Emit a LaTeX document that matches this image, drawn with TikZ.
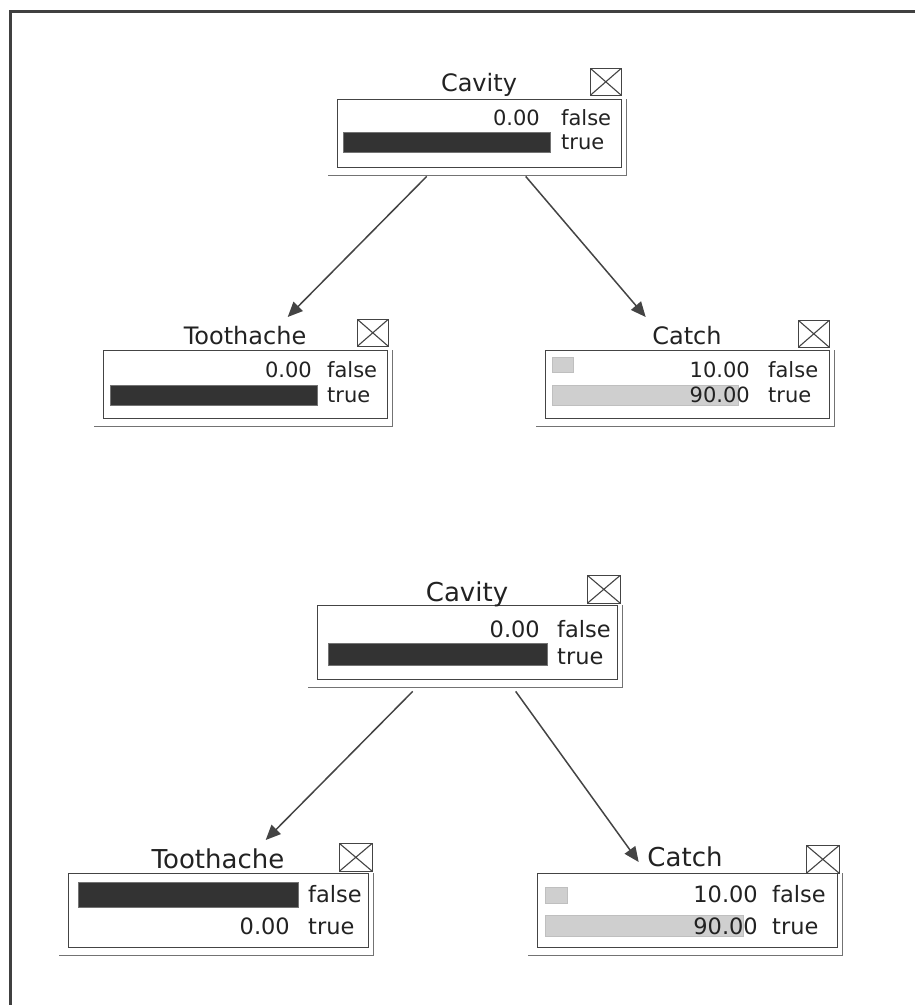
\documentclass[tikz,border=0pt]{standalone}
\usepackage{fontspec}
\setmainfont{DejaVu Sans}
\usetikzlibrary{arrows.meta}
\definecolor{Ink}{HTML}{222222}
\definecolor{Edge}{HTML}{444444}
\definecolor{BarDark}{HTML}{333333}
\definecolor{BarLight}{HTML}{CFCFCF}

\begin{document}
\begin{tikzpicture}[x=1pt, y=-1pt, >={Triangle[length=15pt,width=13pt]}, text=Ink]
\tikzset{win/.style={draw=Edge, line width=1.4pt, fill=white, anchor=north west, inner sep=0pt, minimum width=284pt, minimum height=68pt},
 winb/.style={win, minimum width=300pt, minimum height=74pt},
 ttl/.style={anchor=base, inner sep=0pt, font=\fontsize{24}{24}\selectfont},
 ttlb/.style={ttl, font=\fontsize{26}{26}\selectfont},
 closebox/.style={draw=Edge, line width=1.4pt, fill=white, anchor=south east, inner sep=0pt, minimum width=31pt, minimum height=27pt,
  path picture={\draw[Edge, line width=1.1pt] (path picture bounding box.north west)--(path picture bounding box.south east) (path picture bounding box.north east)--(path picture bounding box.south west);}},
 closeboxb/.style={closebox, minimum width=33pt, minimum height=28pt},
 dbar/.style={fill=BarDark, draw=black!55, anchor=north west, inner sep=0pt, minimum height=20pt},
 lbar/.style={dbar, fill=BarLight, draw=black!25},
 num/.style={anchor=base east, inner sep=0pt, font=\fontsize{21}{21}\selectfont},
 st/.style={anchor=base west, inner sep=0pt, font=\fontsize{21}{21}\selectfont},
 numb/.style={num, font=\fontsize{22.5}{22.5}\selectfont},
 stb/.style={st, font=\fontsize{22.5}{22.5}\selectfont},
 link/.style={->, draw=Edge, line width=1.5pt}}
\useasboundingbox (0,0) rectangle (915,1005);
\draw[black!75, line width=3pt] (915,11) -- (10,11) -- (10,1005);

% evidence: cavity = true
\node[win] (cavTop) at (337,99) {};
\node[ttl] (cavTopT) at (479,91) {Cavity};
\node[closebox] (cavTopX) at (622,96) {};
\node[num] (cavTopF) at (540,125) {0.00};
\node[st] (cavTopFl) at (561,125) {false};
\node[dbar, minimum width=207pt] (cavTopBar) at (343,132) {};
\node[st] (cavTopTr) at (561,149) {true};

\node[win] (toothTop) at (103,350) {};
\node[ttl] (toothTopT) at (245,344) {Toothache};
\node[closebox] (toothTopX) at (389,347) {};
\node[num] (toothTopF) at (312,377) {0.00};
\node[st] (toothTopFl) at (327,377) {false};
\node[dbar, minimum width=207pt] (toothTopBar) at (110,385) {};
\node[st] (toothTopTr) at (327,402) {true};

\node[win] (catchTop) at (545,350) {};
\node[ttl] (catchTopT) at (687,344) {Catch};
\node[closebox] (catchTopX) at (830,348) {};
\node[lbar, minimum width=21pt, minimum height=15pt] (catchTopBarF) at (552,357) {};
\node[num] (catchTopF) at (750,377) {10.00};
\node[st] (catchTopFl) at (768,377) {false};
\node[lbar, minimum width=186pt] (catchTopBarT) at (552,385) {};
\node[num] (catchTopT9) at (750,402) {90.00};
\node[st] (catchTopTr) at (768,402) {true};

% evidence: cavity = true, toothache = false
\node[winb] (cavBot) at (317,605) {};
\node[ttlb] (cavBotT) at (467,601) {Cavity};
\node[closeboxb] (cavBotX) at (621,604) {};
\node[numb] (cavBotF) at (540,637) {0.00};
\node[stb] (cavBotFl) at (557,637) {false};
\node[dbar, minimum width=219pt, minimum height=22pt] (cavBotBar) at (328,643) {};
\node[stb] (cavBotTr) at (557,664) {true};

\node[winb] (toothBot) at (68,873) {};
\node[ttlb] (toothBotT) at (218,868) {Toothache};
\node[closeboxb] (toothBotX) at (373,872) {};
\node[dbar, minimum width=220pt, minimum height=25pt] (toothBotBar) at (78,882) {};
\node[stb] (toothBotFl) at (308,902) {false};
\node[numb] (toothBotT0) at (290,934) {0.00};
\node[stb] (toothBotTr) at (308,934) {true};

\node[winb] (catchBot) at (537,873) {};
\node[ttlb] (catchBotT) at (685,866) {Catch};
\node[closeboxb] (catchBotX) at (840,874) {};
\node[lbar, minimum width=22pt, minimum height=16pt] (catchBotBarF) at (545,887) {};
\node[numb] (catchBotF) at (758,902) {10.00};
\node[stb] (catchBotFl) at (772,902) {false};
\node[lbar, minimum width=198pt, minimum height=21pt] (catchBotBarT) at (545,915) {};
\node[numb] (catchBotT9) at (758,934) {90.00};
\node[stb] (catchBotTr) at (772,934) {true};

\foreach \n in {cavTop,toothTop,catchTop,cavBot,toothBot,catchBot}
 \draw[black!55, line width=1.8pt] ([xshift=-9pt,yshift=-7pt]\n.south west) -- ([xshift=4pt,yshift=-7pt]\n.south east) -- ([xshift=4pt]\n.north east);

\draw[link] ([xshift=-53pt,yshift=-8pt]cavTop.south) -- ([xshift=42pt,yshift=33pt]toothTop.north);
\draw[link] ([xshift=46pt,yshift=-8pt]cavTop.south) -- ([xshift=-42pt,yshift=33pt]catchTop.north);
\draw[link] ([xshift=-55pt,yshift=-11pt]cavBot.south) -- ([xshift=47pt,yshift=33pt]toothBot.north);
\draw[link] ([xshift=48pt,yshift=-11pt]cavBot.south) -- ([xshift=-49pt,yshift=11pt]catchBot.north);
\end{tikzpicture}
\end{document}
